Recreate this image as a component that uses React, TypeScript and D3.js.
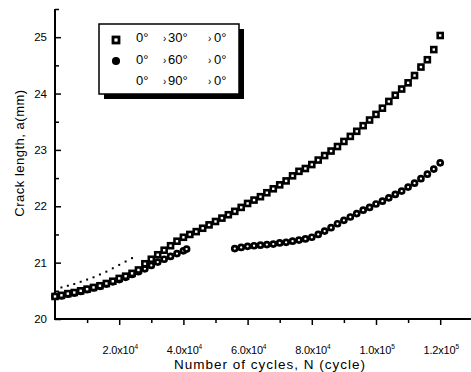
import React, { useEffect, useRef } from 'react';
import * as d3 from 'd3';

// cycles are stored in thousands (x1000 when plotted)
const cycles30 = [0, 2, 4, 6, 8, 10, 12, 14, 16, 18, 20, 22, 24, 26, 28, 30, 32, 34, 36, 38, 40, 42, 44, 46, 48, 50, 52, 54, 56, 58, 60, 62, 64, 66, 68, 70, 72, 74, 76, 78, 80, 82, 84, 86, 88, 90, 92, 94, 96, 98, 100, 102, 104, 106, 108, 110, 112, 114, 116, 118, 120];
const crack30 = [20.40, 20.42, 20.45, 20.47, 20.50, 20.53, 20.56, 20.59, 20.63, 20.67, 20.72, 20.76, 20.81, 20.87, 20.98, 21.06, 21.14, 21.22, 21.30, 21.38, 21.45, 21.50, 21.55, 21.61, 21.67, 21.73, 21.79, 21.85, 21.91, 21.98, 22.05, 22.11, 22.17, 22.24, 22.31, 22.38, 22.45, 22.54, 22.62, 22.67, 22.74, 22.82, 22.90, 22.98, 23.06, 23.15, 23.24, 23.33, 23.43, 23.53, 23.63, 23.74, 23.86, 23.97, 24.08, 24.19, 24.32, 24.47, 24.60, 24.78, 25.03];

const cycles60 = [0, 2, 4, 6, 8, 10, 12, 14, 16, 18, 20, 22, 24, 26, 28, 30, 32, 34, 36, 38, 40, 41, 56, 58, 60, 62, 64, 66, 68, 70, 72, 74, 76, 78, 80, 82, 84, 86, 88, 90, 92, 94, 96, 98, 100, 102, 104, 106, 108, 110, 112, 114, 116, 118, 120];
const crack60 = [20.40, 20.41, 20.44, 20.46, 20.49, 20.52, 20.55, 20.58, 20.62, 20.66, 20.70, 20.74, 20.79, 20.84, 20.89, 20.95, 21.01, 21.06, 21.11, 21.16, 21.21, 21.24, 21.25, 21.27, 21.29, 21.30, 21.31, 21.32, 21.33, 21.35, 21.36, 21.38, 21.40, 21.42, 21.45, 21.50, 21.56, 21.62, 21.69, 21.75, 21.81, 21.87, 21.93, 21.98, 22.04, 22.09, 22.15, 22.21, 22.27, 22.34, 22.41, 22.49, 22.57, 22.66, 22.77];

const cycles90 = [0, 2, 4, 6, 8, 10, 12, 14, 16, 18, 20, 22, 24];
const crack90 = [20.53, 20.56, 20.59, 20.62, 20.66, 20.70, 20.74, 20.79, 20.84, 20.90, 20.96, 21.02, 21.08];

const xMajor = [20000, 40000, 60000, 80000, 100000, 120000];
const xMinor = [10000, 30000, 50000, 70000, 90000, 110000];
const xLabelMant = ['2.0', '4.0', '6.0', '8.0', '1.0', '1.2'];
const xLabelExp = ['4', '4', '4', '4', '5', '5'];
const yMajor = [20, 21, 22, 23, 24, 25];
const yMinor = [20.5, 21.5, 22.5, 23.5, 24.5, 25.5];

const legendRows = [
  { mid: '30°', marker: 'square' },
  { mid: '60°', marker: 'circle' },
  { mid: '90°', marker: 'none' },
];

const FONT = '"Liberation Sans", Arial, sans-serif';

const App = () => {
  const svgRef = useRef<SVGSVGElement>(null);

  useEffect(() => {
    const width = 471;
    const height = 372;
    const left = 55;
    const top = 9;
    const bottom = 319;

    d3.select(svgRef.current).selectAll('*').remove();
    const svg = d3
      .select(svgRef.current)
      .attr('width', width)
      .attr('height', height)
      .style('font-family', FONT);

    const x = d3.scaleLinear().domain([0, 130000]).range([left, left + 417.3]);
    const y = d3.scaleLinear().domain([20, 25.5]).range([bottom, top]);

    // y ticks (inside)
    svg.append('g')
      .attr('transform', `translate(${left},0)`)
      .call(d3.axisLeft(y).tickValues(yMajor).tickSize(-6).tickPadding(8).tickFormat(d3.format('d')))
      .call(g => g.select('.domain').remove())
      .call(g => g.selectAll('line').attr('stroke-width', 1.5))
      .call(g => g.selectAll('text').attr('font-size', 11.5).attr('font-family', FONT).attr('fill', '#000'));
    svg.append('g')
      .attr('transform', `translate(${left},0)`)
      .call(d3.axisLeft(y).tickValues(yMinor).tickSize(-4).tickFormat(() => ''))
      .call(g => g.select('.domain').remove())
      .call(g => g.selectAll('line').attr('stroke-width', 1.5));

    // x ticks (outside)
    svg.append('g')
      .attr('transform', `translate(0,${bottom})`)
      .call(d3.axisBottom(x).tickValues(xMajor).tickSize(6).tickFormat(() => ''))
      .call(g => g.select('.domain').remove())
      .call(g => g.selectAll('line').attr('stroke-width', 1.5));
    svg.append('g')
      .attr('transform', `translate(0,${bottom})`)
      .call(d3.axisBottom(x).tickValues(xMinor).tickSize(4).tickFormat(() => ''))
      .call(g => g.select('.domain').remove())
      .call(g => g.selectAll('line').attr('stroke-width', 1.5));

    const xl = svg.append('g')
      .selectAll('text')
      .data(xMajor)
      .enter()
      .append('text')
      .attr('x', d => x(d) + 1)
      .attr('y', 354)
      .attr('text-anchor', 'middle')
      .attr('font-size', 11)
      .attr('letter-spacing', -0.2);
    xl.append('tspan').text((_, i) => `${xLabelMant[i]}x10`);
    xl.append('tspan').attr('dy', -5).attr('font-size', 6.5).text((_, i) => xLabelExp[i]);

    // axis lines
    svg.append('line')
      .attr('x1', left).attr('x2', left)
      .attr('y1', top).attr('y2', bottom + 1)
      .attr('stroke', '#000').attr('stroke-width', 2);
    svg.append('line')
      .attr('x1', left - 1).attr('x2', width)
      .attr('y1', bottom).attr('y2', bottom)
      .attr('stroke', '#000').attr('stroke-width', 2);

    // axis titles
    svg.append('text')
      .attr('transform', 'rotate(-90)')
      .attr('x', -153)
      .attr('y', 24)
      .attr('text-anchor', 'middle')
      .attr('font-size', 13)
      .attr('letter-spacing', 0.5)
      .text('Crack length, a(mm)');
    svg.append('text')
      .attr('x', 270)
      .attr('y', 369)
      .attr('text-anchor', 'middle')
      .attr('font-size', 13.5)
      .attr('letter-spacing', 1)
      .text('Number of cycles, N (cycle)');

    // 90 deg: small dots
    svg.append('g')
      .selectAll('rect')
      .data(cycles90)
      .enter()
      .append('rect')
      .attr('x', d => x(d * 1000) - 1)
      .attr('y', (_, i) => y(crack90[i]) - 1)
      .attr('width', 2)
      .attr('height', 2)
      .attr('fill', '#000');

    // 60 deg: circles
    svg.append('g')
      .selectAll('circle')
      .data(cycles60)
      .enter()
      .append('circle')
      .attr('cx', d => x(d * 1000))
      .attr('cy', (_, i) => y(crack60[i]))
      .attr('r', 2.5)
      .attr('fill', '#fff')
      .attr('stroke', '#000')
      .attr('stroke-width', 2.7);

    // 30 deg: squares
    svg.append('g')
      .selectAll('rect')
      .data(cycles30)
      .enter()
      .append('rect')
      .attr('x', d => x(d * 1000) - 2.5)
      .attr('y', (_, i) => y(crack30[i]) - 2.5)
      .attr('width', 5)
      .attr('height', 5)
      .attr('fill', '#fff')
      .attr('stroke', '#000')
      .attr('stroke-width', 2.6);

    // legend
    const lg = svg.append('g');
    lg.append('rect')
      .attr('x', 104).attr('y', 29)
      .attr('width', 140).attr('height', 70)
      .attr('fill', '#000');
    lg.append('rect')
      .attr('x', 99).attr('y', 24)
      .attr('width', 140).attr('height', 70)
      .attr('fill', '#fff')
      .attr('stroke', '#000')
      .attr('stroke-width', 1.5);

    legendRows.forEach((row, i) => {
      const cy = 40 + i * 21;
      const base = 42 + i * 21.5;
      if (row.marker === 'square') {
        lg.append('rect')
          .attr('x', 113).attr('y', cy - 3)
          .attr('width', 6).attr('height', 6)
          .attr('fill', '#fff').attr('stroke', '#000').attr('stroke-width', 2.8);
      } else if (row.marker === 'circle') {
        lg.append('circle')
          .attr('cx', 116).attr('cy', cy)
          .attr('r', 3.3)
          .attr('fill', '#000').attr('stroke', '#000').attr('stroke-width', 1.5);
      }
      lg.append('text').attr('x', 136).attr('y', base).attr('font-size', 13).text('0°');
      lg.append('text').attr('x', 163).attr('y', base).attr('font-size', 10).text('›');
      lg.append('text').attr('x', 168).attr('y', base).attr('font-size', 13).text(row.mid);
      lg.append('text').attr('x', 208).attr('y', base).attr('font-size', 10).text('›');
      lg.append('text').attr('x', 214).attr('y', base).attr('font-size', 13).text('0°');
    });
  }, []);

  return (
    <div style={{ position: 'absolute', left: 0, top: 0, width: 471, height: 372, overflow: 'hidden', background: '#fff' }}>
      <svg ref={svgRef} style={{ display: 'block' }}></svg>
    </div>
  );
};

export default App;
